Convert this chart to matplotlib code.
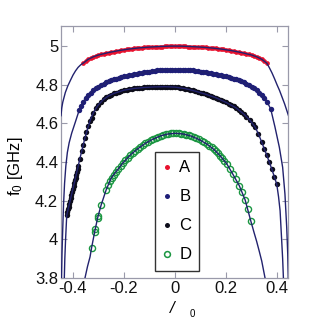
import matplotlib
matplotlib.use("Agg")
import matplotlib.pyplot as plt
from matplotlib.lines import Line2D
from matplotlib.ticker import FormatStrFormatter

plt.rcParams['font.family'] = ['Liberation Sans', 'DejaVu Sans']
plt.rcParams['mathtext.fontset'] = 'custom'
plt.rcParams['mathtext.rm'] = 'Liberation Sans'
plt.rcParams['mathtext.it'] = 'Liberation Sans:italic'
plt.rcParams['axes.unicode_minus'] = False

# ---------------- data ----------------
A_x = [-0.36, -0.35, -0.34, -0.33, -0.32, -0.31, -0.30, -0.29, -0.28, -0.27, -0.26, -0.25,
       -0.24, -0.23, -0.22, -0.21, -0.20, -0.19, -0.18, -0.17, -0.16, -0.15, -0.14, -0.13,
       -0.12, -0.11, -0.10, -0.09, -0.08, -0.07, -0.06, -0.05, -0.04, -0.03, -0.02, -0.01,
       0.00, 0.01, 0.02, 0.03, 0.04, 0.05, 0.06, 0.07, 0.08, 0.09, 0.10, 0.11, 0.12, 0.13,
       0.14, 0.15, 0.16, 0.17, 0.18, 0.19, 0.20, 0.21, 0.22, 0.23, 0.24, 0.25, 0.26, 0.27,
       0.28, 0.29, 0.30, 0.31, 0.32, 0.33, 0.34, 0.35, 0.36]
A_y = [4.912, 4.923, 4.932, 4.939, 4.945, 4.950, 4.954, 4.958, 4.961, 4.964, 4.967, 4.970,
       4.972, 4.975, 4.977, 4.979, 4.981, 4.983, 4.985, 4.986, 4.988, 4.989, 4.991, 4.992,
       4.993, 4.994, 4.995, 4.996, 4.997, 4.997, 4.998, 4.998, 4.999, 4.999, 5.000, 5.000,
       5.000, 5.000, 5.000, 4.999, 4.999, 4.998, 4.998, 4.997, 4.997, 4.996, 4.995, 4.994,
       4.993, 4.992, 4.991, 4.989, 4.988, 4.986, 4.985, 4.983, 4.981, 4.979, 4.977, 4.975,
       4.972, 4.970, 4.967, 4.964, 4.961, 4.958, 4.954, 4.950, 4.945, 4.939, 4.932, 4.923,
       4.912]

B_x = [-0.376, -0.37, -0.36, -0.35, -0.34, -0.33, -0.32, -0.31, -0.30, -0.29, -0.28, -0.27,
       -0.26, -0.25, -0.24, -0.23, -0.22, -0.21, -0.20, -0.19, -0.18, -0.17, -0.16, -0.15,
       -0.14, -0.13, -0.12, -0.11, -0.10, -0.09, -0.08, -0.07, -0.06, -0.05, -0.04, -0.03,
       -0.02, -0.01, 0.00, 0.01, 0.02, 0.03, 0.04, 0.05, 0.06, 0.07, 0.08, 0.09, 0.10, 0.11,
       0.12, 0.13, 0.14, 0.15, 0.16, 0.17, 0.18, 0.19, 0.20, 0.21, 0.22, 0.23, 0.24, 0.25,
       0.26, 0.27, 0.28, 0.29, 0.30, 0.31, 0.32, 0.33, 0.34, 0.35, 0.36, 0.375]
B_y = [4.667, 4.691, 4.713, 4.730, 4.746, 4.759, 4.771, 4.781, 4.790, 4.799, 4.806, 4.812,
       4.818, 4.823, 4.828, 4.832, 4.836, 4.840, 4.843, 4.846, 4.849, 4.852, 4.854, 4.857,
       4.859, 4.862, 4.864, 4.866, 4.868, 4.870, 4.872, 4.874, 4.875, 4.876, 4.877, 4.878,
       4.879, 4.879, 4.879, 4.879, 4.879, 4.878, 4.877, 4.876, 4.875, 4.874, 4.872, 4.870,
       4.868, 4.866, 4.864, 4.862, 4.859, 4.857, 4.854, 4.852, 4.849, 4.846, 4.843, 4.840,
       4.836, 4.832, 4.828, 4.823, 4.818, 4.812, 4.806, 4.799, 4.790, 4.781, 4.771, 4.759,
       4.746, 4.730, 4.713, 4.676]

C_x = [-0.4245, -0.4218, -0.4192, -0.4165, -0.4138, -0.4112, -0.4085, -0.4059, -0.4032,
       -0.4006, -0.3979, -0.3953, -0.3926, -0.3899, -0.3873, -0.3846, -0.3820, -0.3793,
       -0.373, -0.366, -0.360, -0.353, -0.347, -0.340, -0.333, -0.327, -0.320, -0.31, -0.30,
       -0.29, -0.28, -0.27, -0.26, -0.25, -0.24, -0.23, -0.22, -0.21, -0.20, -0.19, -0.18,
       -0.17, -0.16, -0.15, -0.14, -0.13, -0.12, -0.11, -0.10, -0.09, -0.08, -0.07, -0.06,
       -0.05, -0.04, -0.03, -0.02, -0.01, 0.00, 0.01, 0.02, 0.03, 0.04, 0.05, 0.06, 0.07,
       0.08, 0.09, 0.10, 0.11, 0.12, 0.13, 0.14, 0.15, 0.16, 0.17, 0.18, 0.19, 0.20, 0.21,
       0.22, 0.23, 0.24, 0.25, 0.26, 0.27, 0.28, 0.294, 0.304, 0.314, 0.327, 0.340, 0.350,
       0.360, 0.370, 0.380, 0.390, 0.399]
C_y = [4.125, 4.140, 4.155, 4.170, 4.185, 4.200, 4.215, 4.230, 4.245, 4.260, 4.275, 4.290,
       4.305, 4.320, 4.335, 4.350, 4.365, 4.380, 4.418, 4.455, 4.490, 4.525, 4.555, 4.585,
       4.610, 4.630, 4.655, 4.678, 4.697, 4.713, 4.725, 4.735, 4.743, 4.749, 4.755, 4.760,
       4.764, 4.768, 4.772, 4.775, 4.777, 4.779, 4.781, 4.783, 4.784, 4.785, 4.786, 4.787,
       4.788, 4.789, 4.789, 4.790, 4.790, 4.790, 4.790, 4.790, 4.790, 4.789, 4.788, 4.787,
       4.785, 4.783, 4.780, 4.777, 4.774, 4.771, 4.767, 4.763, 4.759, 4.755, 4.751, 4.747,
       4.743, 4.738, 4.733, 4.727, 4.721, 4.715, 4.709, 4.703, 4.696, 4.688, 4.680, 4.671,
       4.660, 4.648, 4.635, 4.616, 4.598, 4.581, 4.546, 4.503, 4.470, 4.435, 4.400, 4.362,
       4.322, 4.285]

D_x = [-0.327, -0.314, -0.312, -0.303, -0.301, -0.290, -0.270, -0.262, -0.255, -0.247,
       -0.239, -0.231, -0.222, -0.213, -0.204, -0.195, -0.186, -0.176, -0.166, -0.156,
       -0.146, -0.136, -0.126, -0.116, -0.106, -0.096, -0.086, -0.076, -0.066, -0.056,
       -0.046, -0.036, -0.026, -0.016, -0.006, 0.004, 0.014, 0.024, 0.034, 0.044, 0.054,
       0.064, 0.074, 0.084, 0.094, 0.104, 0.114, 0.124, 0.134, 0.144, 0.152, 0.160, 0.168,
       0.176, 0.184, 0.192, 0.203, 0.216, 0.226, 0.239, 0.252, 0.262, 0.275, 0.286, 0.297]
D_y = [3.957, 4.040, 4.055, 4.110, 4.120, 4.176, 4.256, 4.280, 4.300, 4.318, 4.335, 4.350,
       4.366, 4.382, 4.396, 4.410, 4.423, 4.436, 4.448, 4.459, 4.469, 4.479, 4.488, 4.497,
       4.505, 4.512, 4.519, 4.525, 4.531, 4.536, 4.540, 4.543, 4.546, 4.548, 4.549, 4.549,
       4.548, 4.547, 4.545, 4.542, 4.538, 4.534, 4.529, 4.523, 4.517, 4.510, 4.502, 4.494,
       4.485, 4.476, 4.466, 4.456, 4.445, 4.434, 4.421, 4.408, 4.391, 4.365, 4.339, 4.313,
       4.278, 4.243, 4.204, 4.157, 4.096]

# fitted model curves
A_fit_x = [-0.447, -0.444, -0.44, -0.43, -0.42, -0.41, -0.40, -0.39, -0.38, -0.37, -0.36,
           -0.34, -0.32, -0.30, -0.26, -0.22, -0.18, -0.14, -0.10, -0.06, -0.02, 0.02, 0.06,
           0.10, 0.14, 0.18, 0.22, 0.26, 0.30, 0.32, 0.34, 0.36, 0.37, 0.38, 0.39, 0.40, 0.41,
           0.42, 0.43, 0.44, 0.445]
A_fit_y = [4.64, 4.68, 4.71, 4.76, 4.795, 4.823, 4.85, 4.872, 4.89, 4.903, 4.912, 4.932,
           4.945, 4.954, 4.967, 4.977, 4.985, 4.991, 4.995, 4.998, 5.0, 5.0, 4.998, 4.995,
           4.991, 4.985, 4.977, 4.967, 4.954, 4.945, 4.932, 4.912, 4.888, 4.862, 4.832, 4.80,
           4.77, 4.735, 4.70, 4.66, 4.64]

B_fit_x = [-0.445, -0.443, -0.440, -0.437, -0.433, -0.428, -0.422, -0.415, -0.405, -0.39,
           -0.376, -0.36, -0.34, -0.32, -0.30, -0.26, -0.22, -0.18, -0.14, -0.10, -0.06,
           -0.02, 0.02, 0.06, 0.10, 0.14, 0.18, 0.22, 0.26, 0.30, 0.32, 0.34, 0.36, 0.375,
           0.392, 0.409, 0.422, 0.431, 0.438, 0.442, 0.444]
B_fit_y = [3.80, 3.93, 4.06, 4.18, 4.29, 4.38, 4.45, 4.50, 4.55, 4.61, 4.667, 4.713, 4.746,
           4.771, 4.790, 4.818, 4.836, 4.849, 4.859, 4.868, 4.875, 4.879, 4.879, 4.875, 4.868,
           4.859, 4.849, 4.836, 4.818, 4.790, 4.771, 4.746, 4.713, 4.676, 4.581, 4.477, 4.373,
           4.235, 4.061, 3.923, 3.80]

C_fit_x = [-0.434, -0.432, -0.429, -0.4245, -0.3793, -0.373, -0.366, -0.353, -0.340, -0.330,
           -0.320, -0.31, -0.30, -0.28, -0.26, -0.24, -0.20, -0.16, -0.12, -0.08, -0.04, 0.0,
           0.04, 0.08, 0.12, 0.16, 0.20, 0.24, 0.27, 0.294, 0.314, 0.327, 0.340, 0.360, 0.380,
           0.399, 0.406, 0.412, 0.418, 0.422, 0.425]
C_fit_y = [3.80, 3.90, 4.00, 4.125, 4.380, 4.418, 4.455, 4.525, 4.585, 4.625, 4.655, 4.678,
           4.697, 4.725, 4.743, 4.755, 4.772, 4.781, 4.786, 4.789, 4.790, 4.788, 4.780, 4.767,
           4.751, 4.733, 4.709, 4.680, 4.648, 4.616, 4.581, 4.546, 4.503, 4.435, 4.362, 4.285,
           4.22, 4.148, 4.00, 3.90, 3.80]

D_fit_x = [-0.353, -0.343, -0.333, -0.327, -0.314, -0.303, -0.290, -0.270, -0.250, -0.230,
           -0.204, -0.176, -0.146, -0.116, -0.086, -0.056, -0.026, 0.004, 0.034, 0.064,
           0.094, 0.124, 0.152, 0.176, 0.203, 0.226, 0.252, 0.275, 0.297, 0.310, 0.320,
           0.330, 0.340, 0.353]
D_fit_y = [3.80, 3.86, 3.91, 3.957, 4.045, 4.113, 4.176, 4.256, 4.318, 4.352, 4.396, 4.436,
           4.469, 4.497, 4.519, 4.536, 4.546, 4.549, 4.545, 4.534, 4.517, 4.494, 4.466,
           4.434, 4.391, 4.339, 4.278, 4.204, 4.096, 4.035, 3.99, 3.94, 3.888, 3.80]

labels = ['A', 'B', 'C', 'D']
x_ticks = [-0.4, -0.2, 0, 0.2, 0.4]
y_ticks = [3.8, 4.0, 4.2, 4.4, 4.6, 4.8, 5.0]

# ---------------- plot ----------------
fig = plt.figure(figsize=(3.2, 3.27), dpi=100)
ax = fig.add_axes([0.1906, 0.1498, 0.7094, 0.7706])

red = '#e8112d'
navy = '#1e1e78'
blk = '#0d0d1a'
grn = '#1a9641'
fitc = '#22226e'

ax.plot(A_x, A_y, 'o', color=red, ms=3.4, mew=0, zorder=3)
ax.plot(B_x, B_y, 'o', color=navy, ms=3.9, mew=0, zorder=3)
ax.plot(C_x, C_y, 'o', color=blk, ms=3.9, mew=0, zorder=3)
ax.plot(D_x, D_y, 'o', mfc='none', mec=grn, ms=4.4, mew=1.0, zorder=3)

for fx, fy in [(A_fit_x, A_fit_y), (B_fit_x, B_fit_y), (C_fit_x, C_fit_y), (D_fit_x, D_fit_y)]:
    ax.plot(fx, fy, '-', color=fitc, lw=1.0, zorder=4)

ax.set_xlim(-0.447, 0.443)
ax.set_ylim(3.8, 5.104)
ax.set_xticks(x_ticks)
ax.set_yticks(y_ticks)
ax.xaxis.set_major_formatter(FormatStrFormatter('%g'))
ax.yaxis.set_major_formatter(FormatStrFormatter('%g'))
ax.tick_params(direction='in', length=4, width=0.8, color='#9a9aaa', labelsize=12,
               top=True, right=True, pad=2, labelcolor='#111111')
for s in ax.spines.values():
    s.set_color('#9a9aaa')
    s.set_linewidth(0.9)

handles = [
    Line2D([], [], ls='none', marker='o', color=red, ms=3.6, mew=0),
    Line2D([], [], ls='none', marker='o', color=navy, ms=3.6, mew=0),
    Line2D([], [], ls='none', marker='o', color=blk, ms=3.6, mew=0),
    Line2D([], [], ls='none', marker='o', mfc='none', mec=grn, ms=4.2, mew=1.1),
]
leg = ax.legend(handles, labels, loc='upper left', bbox_to_anchor=(0.414, 0.50),
                borderaxespad=0, fontsize=12, handlelength=0.5, handletextpad=0.45,
                borderpad=0.5, labelspacing=0.84, fancybox=False, frameon=True)
leg.get_frame().set_edgecolor('black')
leg.get_frame().set_linewidth(1.0)
leg.set_zorder(6)

fig.text(0.047, 0.492, r'f$_0$ [GHz]', rotation=90, ha='center', va='center', fontsize=12)
fig.text(0.537, 0.058, '/', style='italic', ha='center', va='center', fontsize=12)
fig.text(0.600, 0.040, '0', ha='center', va='center', fontsize=7)

fig.savefig('out.png', dpi=100)
